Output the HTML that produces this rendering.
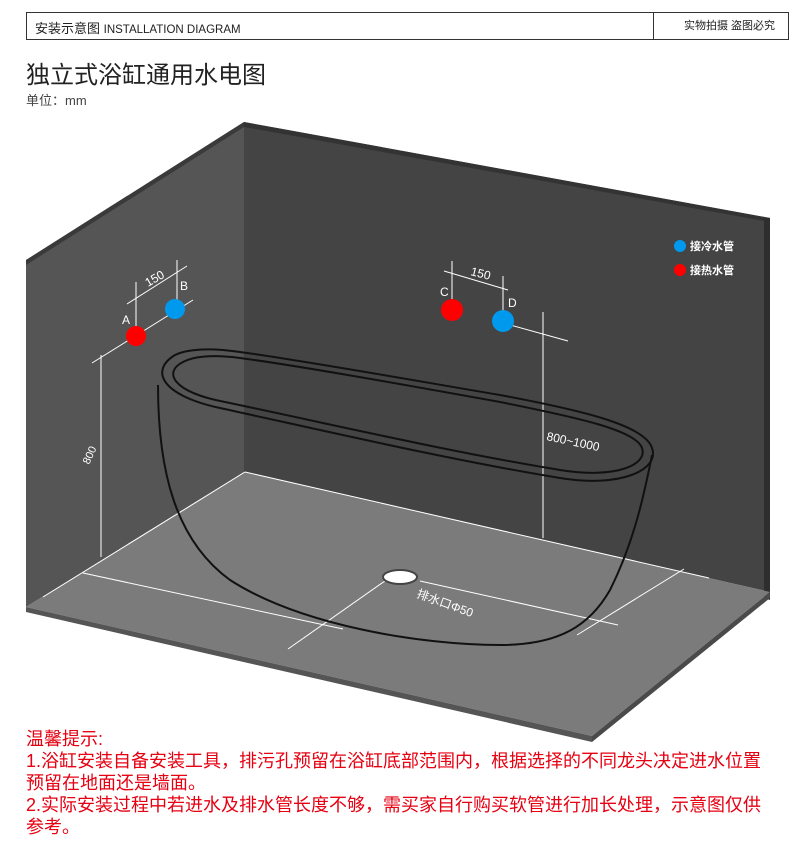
<!DOCTYPE html>
<html><head><meta charset="utf-8"><style>
body{margin:0;width:790px;height:866px;background:#fff;position:relative;overflow:hidden;font-family:"Liberation Sans","Noto Sans CJK SC",sans-serif}
.hd{position:absolute;left:26px;top:12px;width:763px;height:28px;border:1px solid #333;box-sizing:border-box}
.hd .l{position:absolute;left:8px;top:5px;font-size:13px;color:#222}
.hd .l small{font-size:11.5px}
.hd .r{position:absolute;left:626px;top:0;height:26px;border-left:1px solid #333;padding-left:30px;font-size:11px;line-height:26px;color:#222}
.t{position:absolute;left:26px;top:55px;font-size:24px;color:#222}
.u{position:absolute;left:26px;top:90px;font-size:13px;color:#444}
.n{position:absolute;left:26px;top:728px;font-size:18px;line-height:22px;color:#e60012;width:770px}
</style></head><body>
<div class="hd"><div class="l">安装示意图 <small>INSTALLATION DIAGRAM</small></div><div class="r">实物拍摄 盗图必究</div></div>
<div class="t">独立式浴缸通用水电图</div>
<div class="u">单位：mm</div>
<svg width="790" height="866" style="position:absolute;left:0;top:0">
<polygon points="26,260 244,122 244,472 26,607" fill="#555"/>
<polygon points="244,122 770,218 770,592 244,472" fill="#444"/>
<polygon points="244,122 770,218 770,222 244,127" fill="#333"/>
<polygon points="26,260 244,122 244,127 26,265" fill="#3a3a3a"/>
<polygon points="764,218 770,218 770,600 764,598" fill="#2e2e2e"/>
<polygon points="26,607 244,472 770,592 592,736" fill="#7b7b7b"/>
<polygon points="26,607 592,736 592,742 26,612" fill="#555"/>
<polygon points="592,736 770,592 770,598 592,742" fill="#4a4a4a"/>
<g stroke="#fff" stroke-width="1" fill="none">
<line x1="245" y1="472" x2="709" y2="578"/><line x1="245" y1="472" x2="43" y2="597"/>
<line x1="101" y1="355" x2="101" y2="557"/><line x1="92" y1="363" x2="193" y2="300"/>
<line x1="136" y1="282" x2="136" y2="337"/><line x1="177" y1="260" x2="177" y2="310"/>
<line x1="127" y1="304" x2="187" y2="266"/>
<line x1="452" y1="261" x2="452" y2="310"/><line x1="503" y1="276" x2="503" y2="322"/>
<line x1="444" y1="271" x2="508" y2="290"/><line x1="503" y1="323" x2="568" y2="341"/>
<line x1="543" y1="312" x2="543" y2="538"/>
<line x1="83" y1="573" x2="343" y2="629"/><line x1="288" y1="649" x2="392" y2="576"/>
<line x1="420" y1="581" x2="618" y2="625"/><line x1="577" y1="635" x2="684" y2="569"/>
</g>
<circle cx="136" cy="336" r="10" fill="#f00"/><circle cx="175" cy="309" r="10" fill="#09e"/>
<circle cx="452" cy="310" r="11" fill="#f00"/><circle cx="503" cy="321" r="11" fill="#09e"/>
<circle cx="680" cy="246" r="6" fill="#09e"/><circle cx="680" cy="270" r="6" fill="#f00"/>
<ellipse cx="400" cy="577" rx="17" ry="7" fill="#fff" stroke="#444" stroke-width="2"/>
<g fill="none" stroke="#111" stroke-width="2">
<path d="M175,355 C150,370 160,395 220,408 C330,432 450,460 560,478 C620,488 660,470 652,448 C645,425 580,410 500,395 C400,378 300,360 240,352 C205,347 185,350 175,355 Z"/>
<path d="M183,362 C163,372 172,392 225,402 C330,424 450,452 560,470 C615,479 648,465 642,448 C636,430 575,417 500,402 C400,384 300,366 240,358 C210,354 192,357 183,362 Z"/>
<path d="M158,385 C158,470 175,540 230,580 C300,625 420,645 500,645 C560,645 590,625 610,590 C635,540 645,490 652,455"/>
</g>
<g fill="#fff" font-family="Liberation Sans,Noto Sans CJK SC,sans-serif">
<text x="148" y="287" font-size="12" transform="rotate(-30 148 287)">150</text>
<text x="122" y="324" font-size="12">A</text><text x="180" y="290" font-size="12">B</text>
<text x="440" y="296" font-size="12">C</text><text x="508" y="307" font-size="12">D</text>
<text x="470" y="275" font-size="12" transform="rotate(14 470 275)">150</text>
<text x="89" y="465" font-size="11" transform="rotate(-65 89 465)">800</text>
<text x="546" y="440" font-size="12" transform="rotate(12 546 440)">800~1000</text>
<text x="416" y="597" font-size="12" transform="rotate(20 416 597)">排水口Φ50</text>
<text x="690" y="250" font-size="11" font-weight="bold">接冷水管</text>
<text x="690" y="274" font-size="11" font-weight="bold">接热水管</text>
</g>
</svg>
<div class="n">温馨提示:<br>1.浴缸安装自备安装工具，排污孔预留在浴缸底部范围内，根据选择的不同龙头决定进水位置<br>预留在地面还是墙面。<br>2.实际安装过程中若进水及排水管长度不够，需买家自行购买软管进行加长处理，示意图仅供<br>参考。</div>
</body></html>
